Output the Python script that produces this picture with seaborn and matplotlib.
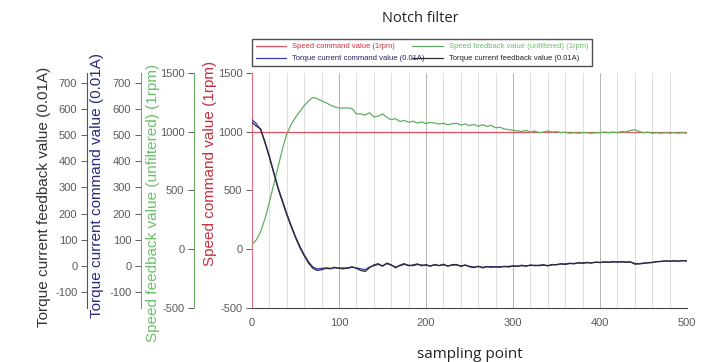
import numpy as np
import pandas as pd
import matplotlib
matplotlib.use("Agg")
import matplotlib.pyplot as plt
import seaborn as sns

# ---------------- data ----------------
samples = list(range(0, 501, 5))

speed_command = [1000] * len(samples)

speed_feedback = [
    40, 80, 150, 260, 400, 550, 700, 850, 980, 1060,
    1120, 1170, 1220, 1260, 1290, 1280, 1260, 1245, 1225, 1210,
    1200, 1200, 1200, 1195, 1150, 1150, 1140, 1160, 1125, 1130,
    1150, 1120, 1100, 1110, 1085, 1095, 1078, 1088, 1072, 1082,
    1068, 1078, 1072, 1064, 1070, 1058, 1066, 1070, 1055, 1064,
    1050, 1060, 1045, 1058, 1044, 1052, 1032, 1036, 1022, 1016,
    1010, 1005, 1000, 1010, 995, 1005, 990, 995, 1005, 995,
    1000, 990, 995, 985, 990, 985, 990, 990, 985, 990,
    990, 995, 990, 995, 990, 1000, 995, 1010, 1015, 1000,
    990, 995, 985, 990, 985, 990, 985, 990, 985, 990,
    985,
]

torque_command = [
    560, 545, 520, 475, 420, 360, 300, 250, 200, 155,
    112, 75, 42, 15, -5, -12, -10, -8, -10, -8,
    -9, -8, -10, -6, -8, -12, -15, -5, 0, 5,
    0, 8, 2, -5, 0, 5, 2, 0, 5, 3,
    2, 0, 3, 1, 3, 0, 2, 3, 0, 2,
    -2, -5, -3, -6, -4, -3, -5, -3, -4, -2,
    -2, -1, 0, 0, 1, 2, 0, 2, 1, 3,
    5, 6, 7, 8, 9, 10, 11, 11, 12, 13,
    13, 14, 14, 14, 15, 14, 15, 14, 9, 8,
    10, 12, 13, 15, 17, 18, 18, 18, 18, 19,
    19,
]

torque_feedback = [
    550, 535, 525, 470, 415, 355, 295, 245, 195, 150,
    108, 70, 38, 10, -10, -18, -15, -10, -12, -6,
    -10, -12, -8, -4, -10, -18, -22, -8, 3, 8,
    -2, 10, 4, -8, 2, 8, 0, 3, 7, 0,
    4, -2, 5, 0, 6, -2, 4, 5, -3, 3,
    -4, -7, -2, -8, -3, -6, -4, -6, -2, -5,
    0, -3, 2, -2, 3, 0, 2, 4, -1, 5,
    3, 8, 5, 10, 7, 12, 9, 13, 10, 14,
    12, 15, 13, 16, 14, 16, 13, 15, 6, 7,
    9, 11, 12, 16, 16, 19, 17, 19, 17, 20,
    18,
]

x_ticks = [0, 100, 200, 300, 400, 500]
speed_ticks = [-500, 0, 500, 1000, 1500]
torque_ticks = [-100, 0, 100, 200, 300, 400, 500, 600, 700]

df = pd.DataFrame({
    "sample": samples,
    "speed_command": speed_command,
    "speed_feedback": speed_feedback,
    "torque_command": torque_command,
    "torque_feedback": torque_feedback,
})

# ---------------- style ----------------
sns.set_style("white")
plt.rcParams["font.family"] = ["Liberation Sans", "DejaVu Sans"]
plt.rcParams["axes.unicode_minus"] = False

W, H = 708, 362
fig = plt.figure(figsize=(W / 100, H / 100), dpi=100)

L, R, T, B = 252, 687, 72.7, 308
ax = fig.add_axes([L / W, 1 - B / H, (R - L) / W, (B - T) / H])
aw = R - L

C_RED = "#e2505e"
C_GREEN = "#5fae5f"
C_BLUE = "#3b3bb8"
C_BLACK = "#2a2a2a"
TICK_C = "#5a5a5a"
LABEL_FS = 11

# main axis: speed command
sns.lineplot(data=df, x="sample", y="speed_command", ax=ax, color=C_RED,
             linewidth=0.9, legend=False)
ax.set_xlim(0, 500)
ax.set_ylim(-500, 1500)
ax.set_xticks(x_ticks)
ax.set_xticks(np.arange(0, 501, 20), minor=True)
ax.set_yticks(speed_ticks)
ax.grid(False)
ax.grid(True, axis="x", which="major", color="#b4b4b4", linewidth=0.7)
ax.grid(True, axis="x", which="minor", color="#d8d8d8", linewidth=0.6)
for s in ["top", "right"]:
    ax.spines[s].set_visible(False)
ax.spines["left"].set_color("#e07080")
ax.spines["bottom"].set_color("#444444")
ax.spines["left"].set_linewidth(0.8)
ax.spines["bottom"].set_linewidth(0.8)
ax.tick_params(axis="x", which="both", direction="inout", length=4,
               color="#444444", labelsize=8, labelcolor=TICK_C, pad=5, width=0.6)
ax.tick_params(axis="y", which="both", direction="out", length=4, left=True,
               color="#444444", labelsize=8, labelcolor=TICK_C, pad=3, width=0.6)
ax.set_xlabel("sampling point", fontsize=11, family=["Open Sans", "DejaVu Sans"],
              color="#222222")
ax.xaxis.set_label_coords(0.5, -0.165)
ax.set_ylabel("Speed command value (1rpm)", fontsize=LABEL_FS, color="#c43040")


def add_left_axis(spine_x, color_spine):
    a = ax.twinx()
    a.grid(False)
    a.patch.set_visible(False)
    for s in ["top", "right", "bottom"]:
        a.spines[s].set_visible(False)
    a.spines["left"].set_visible(True)
    a.spines["left"].set_position(("axes", (spine_x - L) / aw))
    a.spines["left"].set_color(color_spine)
    a.spines["left"].set_linewidth(0.8)
    a.yaxis.set_ticks_position("left")
    a.yaxis.set_label_position("left")
    a.tick_params(axis="y", direction="out", length=4, color="#444444",
                  labelsize=8, labelcolor=TICK_C, pad=3, width=0.6)
    return a


ax_sf = add_left_axis(194, "#6aa86a")
sns.lineplot(data=df, x="sample", y="speed_feedback", ax=ax_sf, color=C_GREEN,
             linewidth=0.9, legend=False)
ax_sf.set_ylim(-500, 1500)
ax_sf.set_yticks(speed_ticks)
ax_sf.set_ylabel("Speed feedback value (unfiltered) (1rpm)", fontsize=LABEL_FS,
                 color="#6cbf6c")

ax_tc = add_left_axis(141, "#8a8ac8")
sns.lineplot(data=df, x="sample", y="torque_command", ax=ax_tc, color=C_BLUE,
             linewidth=0.9, legend=False)
ax_tc.set_ylim(-162, 740)
ax_tc.set_yticks(torque_ticks)
ax_tc.set_ylabel("Torque current command value (0.01A)", fontsize=LABEL_FS,
                 color="#2a2a80")

ax_tf = add_left_axis(87, "#555555")
sns.lineplot(data=df, x="sample", y="torque_feedback", ax=ax_tf, color=C_BLACK,
             linewidth=0.9, legend=False)
ax_tf.set_ylim(-162, 740)
ax_tf.set_yticks(torque_ticks)
ax_tf.set_ylabel("Torque current feedback value (0.01A)", fontsize=LABEL_FS,
                 color="#333333")

for a in [ax, ax_sf, ax_tc, ax_tf]:
    a.set_xlim(0, 500)
    a.set_xlabel("sampling point" if a is ax else "")

# label positions (centres in pixel coordinates)
for a, xc, yc in [(ax, 210, 163), (ax_sf, 153, 203), (ax_tc, 97, 186),
                  (ax_tf, 44, 197)]:
    a.yaxis.label.set_va("center")
    a.yaxis.set_label_coords((xc - L) / aw, (B - yc) / (B - T))

# title
fig.text(420 / W, 1 - 18 / H, "Notch filter", ha="center", va="center",
         fontsize=10.5, family=["Open Sans", "DejaVu Sans"], color="#222222")

# legend
h_sc = ax.get_lines()[0]
h_sf = ax_sf.get_lines()[0]
h_tc = ax_tc.get_lines()[0]
h_tf = ax_tf.get_lines()[0]
labels = ["Speed command value (1rpm)", "Torque current command value (0.01A)",
          "Speed feedback value (unfiltered) (1rpm)",
          "Torque current feedback value (0.01A)"]
leg = fig.legend([h_sc, h_tc, h_sf, h_tf], labels,
                 loc="lower left",
                 bbox_to_anchor=(252 / W, 1 - 66 / H, (592 - 252) / W, 28 / H),
                 mode="expand", ncol=2, fontsize=5.5, frameon=True,
                 fancybox=False, edgecolor="#222222", handlelength=4,
                 borderaxespad=0, borderpad=0.5, labelspacing=0.6,
                 columnspacing=2)
leg.get_frame().set_linewidth(1.0)
for txt, c in zip(leg.get_texts(), ["#d03040", "#222266", "#6cbf6c", "#222222"]):
    txt.set_color(c)

fig.savefig("out.png", dpi=100)
